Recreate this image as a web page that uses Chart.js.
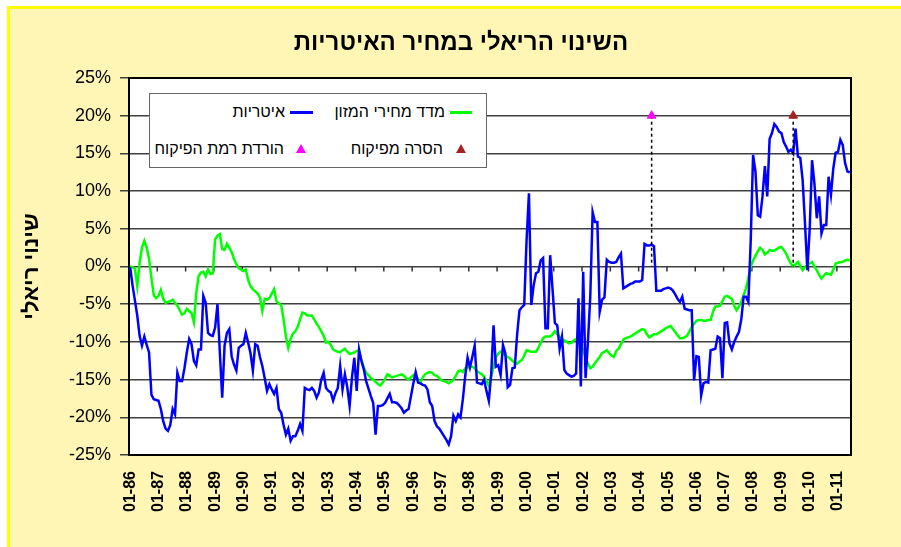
<!DOCTYPE html>
<html lang="he">
<head>
<meta charset="utf-8">
<script src="https://cdn.jsdelivr.net/npm/chart.js@4.4.1/dist/chart.umd.min.js"></script>
<style>
    html, body { margin: 0; padding: 0; background: #fff; overflow: hidden; }
    body { width: 901px; height: 547px; position: relative; font-family: Arial, "Liberation Sans", sans-serif; }
    #frame {
        position: absolute; left: 7px; top: 6px; width: 900px; height: 546px;
        background: #FFF5B4; border-left: 3px solid #FFFF00; border-top: 3px solid #FFFF00;
    }
    #chart { position: absolute; left: 0; top: 0; }
    #title {
        position: absolute; left: 0; width: 922px; top: 28px; line-height: 28px;
        text-align: center; font-weight: bold; font-size: 24px; direction: rtl; color: #000;
    }
    #legendBox {
        position: absolute; left: 149px; top: 93px; width: 338px; height: 75px;
        box-sizing: border-box; background: #fff; border: 1.5px solid #666;
    }
    .lg-text { position: absolute; font-size: 16px; line-height: 20px; direction: rtl; white-space: nowrap; color: #000; }
    .lg-line { position: absolute; height: 3px; }
    .lg-tri {
        position: absolute; width: 0; height: 0;
        border-left: 5px solid transparent; border-right: 5px solid transparent; border-bottom: 9px solid;
    }
</style>
</head>
<body>
<div id="frame"></div>
<canvas id="chart" width="901" height="547"></canvas>
<div id="title">השינוי הריאלי במחיר האיטריות</div>
<div id="legendBox"></div>
<div class="lg-line" style="left:450px; top:111px; width:22px; background:#00ff00;"></div>
<div class="lg-text" style="right:456px; top:102px;">מדד מחירי המזון</div>
<div class="lg-line" style="left:290px; top:111px; width:23px; background:#0000ff;"></div>
<div class="lg-text" style="right:616px; top:102px;">איטריות</div>
<div class="lg-tri" style="left:456px; top:144px; border-bottom-color:#A52222;"></div>
<div class="lg-text" style="right:458px; top:139px;">הסרה מפיקוח</div>
<div class="lg-tri" style="left:296px; top:144px; border-bottom-color:#FF00FF;"></div>
<div class="lg-text" style="right:617px; top:139px;">הורדת רמת הפיקוח</div>

<script>
// ---- data (monthly, 01-86 .. 06-11) ----
const yearTicks = ["01-86", "01-87", "01-88", "01-89", "01-90", "01-91", "01-92", "01-93", "01-94",
    "01-95", "01-96", "01-97", "01-98", "01-99", "01-00", "01-01", "01-02", "01-03", "01-04",
    "01-05", "01-06", "01-07", "01-08", "01-09", "01-10", "01-11"];

const foodIndex = [
    0, -0.1, -0.3, -2.6, 0.5, 2.5, 3.4, 2.5, 1.0, -1.5, -3.8, -4.2,
    -3.9, -3.1, -4.3, -4.8, -4.7, -4.6, -4.4, -4.8, -5.2, -5.8, -6.4, -6.2,
    -5.6, -5.9, -6.2, -7.4, -3.5, -1.3, -0.8, -0.7, -1.3, -0.4, -1.0, -0.9,
    3.6, 4.1, 4.3, 2.3, 2.2, 3.0, 2.5, 1.9, 1.0, 0.3, -0.2, -0.4,
    -0.6, -0.4, -1.8, -2.6, -3.0, -3.3, -3.6, -4.1, -5.9, -4.3, -4.4, -4.2,
    -3.6, -3.0, -4.6, -4.9, -5.1, -7.0, -9.3, -10.8, -9.6, -8.9, -8.6, -8.0,
    -7.0, -6.1, -6.2, -6.5, -6.5, -6.5, -7.0, -7.6, -8.0, -8.6, -9.2, -10.1,
    -10.0, -10.4, -11.0, -11.2, -11.3, -11.4, -11.1, -10.9, -11.3, -11.6, -11.5, -11.4,
    -11.2, -11.2, -12.4, -13.4, -14.1, -14.4, -14.8, -15.0, -15.3, -15.6, -15.8, -15.4,
    -14.9, -14.3, -14.5, -14.7, -14.6, -14.5, -14.4, -14.3, -14.5, -14.8, -15.0, -14.7,
    -14.4, -14.3, -15.0, -15.4, -14.7, -14.3, -14.1, -14.0, -14.1, -14.4, -14.5, -14.8,
    -15.1, -15.2, -15.3, -15.5, -15.3, -15.0, -14.5, -13.9, -13.8, -14.0, -13.5, -13.4,
    -13.3, -13.3, -13.5, -13.9, -14.1, -14.3, -14.6, -15.2, -15.8, -14.6, -13.3, -12.0,
    -11.6, -11.3, -11.5, -11.8, -12.0, -12.2, -12.5, -12.8, -12.9, -12.6, -12.4, -11.8,
    -11.1, -11.2, -11.3, -11.3, -11.3, -10.8, -10.1, -9.5, -9.3, -9.3, -9.3, -9.0,
    -8.6, -9.0, -9.3, -9.6, -9.8, -10.0, -10.2, -10.1, -9.8, -9.6, -9.7, -10.4,
    -11.1, -12.0, -12.9, -13.5, -13.3, -12.8, -12.4, -12.0, -11.5, -11.3, -11.1, -11.5,
    -11.8, -12.0, -11.2, -10.9, -10.3, -9.7, -9.5, -9.4, -9.3, -9.1, -8.9, -8.7,
    -8.5, -8.3, -8.4, -9.0, -9.4, -9.2, -9.0, -9.0, -8.8, -8.6, -8.4, -8.2,
    -8.0, -7.9, -8.3, -8.7, -9.1, -9.5, -9.5, -9.4, -9.2, -8.6, -8.0, -7.6,
    -7.2, -7.1, -7.1, -7.2, -7.2, -7.1, -7.1, -6.0, -5.3, -5.3, -5.2, -4.6,
    -4.0, -3.9, -4.1, -4.3, -5.2, -5.8, -5.3, -4.7, -3.8, -2.9, -1.5, 0.0,
    0.8, 1.4, 2.0, 2.5, 2.2, 1.6, 1.8, 2.2, 2.1, 2.1, 2.3, 2.5,
    2.6, 2.2, 1.7, 1.0, 0.4, 0.0, 0.3, 0.6, 0.1, -0.5, -0.1, 0.2,
    0.4, 0.6, 0.0, -0.5, -1.1, -1.6, -1.2, -0.9, -1.0, -1.1, -0.4, 0.4,
    0.5, 0.6, 0.6, 0.8, 0.9, 0.8
];

const noodles = [
    -0.1, -2.5, -4.5, -6.5, -9.2, -10.5, -9.3, -10.4, -11.4, -17.0, -17.6, -17.7,
    -17.8, -18.9, -20.5, -21.5, -21.8, -21.0, -18.9, -19.6, -14.1, -15.2, -15.2, -13.5,
    -11.4, -9.6, -10.3, -12.5, -13.1, -11.0, -11.0, -3.9, -4.8, -8.8, -9.1, -9.2,
    -8.1, -5.0, -11.4, -17.4, -10.5, -8.8, -8.3, -11.9, -13.0, -13.8, -10.8, -10.5,
    -10.3, -8.8, -10.1, -11.5, -13.8, -10.3, -10.5, -12.0, -13.2, -14.8, -16.5, -15.6,
    -16.3, -16.9, -16.1, -18.9, -19.4, -21.0, -22.3, -21.5, -23.1, -22.5, -22.5, -21.8,
    -20.9, -21.8, -16.1, -16.3, -16.4, -16.1, -16.5, -17.4, -16.7, -15.0, -14.1, -16.1,
    -16.5, -16.7, -17.8, -16.8, -16.1, -13.2, -16.3, -14.3, -16.0, -18.5, -14.7, -12.1,
    -16.5, -11.0, -12.5, -13.6, -15.2, -16.2, -17.2, -18.1, -22.3, -18.5, -18.5, -18.4,
    -18.1, -17.5, -16.9, -18.0, -18.0, -18.1, -18.4, -18.8, -19.4, -19.1, -18.9, -17.2,
    -15.5, -14.0, -15.4, -15.5, -15.7, -15.8, -16.3, -18.0, -18.5, -20.5, -21.2, -21.5,
    -22.0, -22.5, -23.0, -23.6, -22.5, -19.8, -20.5, -19.6, -20.0, -17.6, -14.5, -12.1,
    -13.4, -12.0, -10.5, -15.4, -15.5, -15.6, -15.0, -16.5, -17.8, -14.3, -7.8, -13.3,
    -13.1, -14.4, -10.4, -11.5, -16.0, -15.7, -13.5, -13.4, -9.0, -5.8, -5.4, -5.1,
    3.5, 9.7, -5.1, -2.5, -0.9, -0.7, 0.8, 1.1, -8.2, -8.2, 1.5, -3.0,
    -7.5, -7.8, -10.9, -9.3, -13.7, -14.2, -14.4, -14.6, -14.5, -14.2, -4.2, -15.9,
    -0.7, -14.8, -10.0, -4.0, 7.2, 5.9, 5.9, -6.0, -4.4, -4.1, 0.9, 0.6,
    0.5, 0.5, 0.6, 1.2, 1.7, -2.9, -2.7, -2.5, -2.3, -2.2, -2.0, -2.0,
    -2.0, -1.8, 3.0, 2.8, 2.8, 2.9, 2.7, -3.2, -3.2, -3.2, -3.0, -2.9,
    -2.8, -2.9, -3.2, -3.7, -4.3, -4.7, -4.0, -5.6, -5.7, -5.8, -5.8, -15.1,
    -11.9, -12.0, -17.1, -15.5, -15.3, -15.4, -11.1, -11.0, -10.9, -9.3, -9.5, -14.8,
    -7.5, -7.4, -10.2, -11.0, -10.0, -9.3, -8.7, -7.0, -4.0, -4.0, -4.7, 3.5,
    14.8, 12.6, 6.8, 6.6, 9.3, 13.3, 9.3, 16.9, 17.7, 18.9, 18.5, 17.9,
    17.7, 16.5, 15.9, 15.2, 15.5, 15.0, 18.3, 14.6, 14.4, 11.5, 5.7, -0.5,
    5.0, 14.1, 11.0, 6.4, 9.3, 4.4, 5.5, 5.5, 11.9, 9.5, 13.0, 15.1,
    15.2, 16.8, 16.1, 13.7, 12.6, 12.5
];

// events: lowering of control level, removal from control
const eventMonths = ["06-04", "06-09"];
const eventNames = ["הורדת רמת הפיקוח", "הסרה מפיקוח"];
const eventColors = ["#FF00FF", "#A52222"];
const eventLevel = 20;

// month labels MM-YY for the category axis
const monthLabels = [];
for (let i = 0; i < foodIndex.length; i++) {
    const mm = String(i % 12 + 1).padStart(2, "0");
    const yy = String((86 + Math.floor(i / 12)) % 100).padStart(2, "0");
    monthLabels.push(mm + "-" + yy);
}

Chart.defaults.font.family = 'Arial, "Liberation Sans", sans-serif';
Chart.defaults.color = "#000";

// =======================
// PLUGINS
// =======================
const plotFrame = {
    id: "plotFrame",
    beforeDraw(chart) {
        const a = chart.chartArea;
        const ctx = chart.ctx;
        ctx.save();
        ctx.fillStyle = "#fff";
        ctx.fillRect(a.left, a.top, a.right - a.left, a.bottom - a.top);
        ctx.restore();
    },
    beforeDatasetsDraw(chart) {
        const a = chart.chartArea;
        const ctx = chart.ctx;
        const xs = chart.scales.x;
        const y0 = chart.scales.y.getPixelForValue(0);
        const half = (xs.getPixelForValue(1) - xs.getPixelForValue(0)) / 2;
        ctx.save();
        // small year ticks on the zero line
        ctx.strokeStyle = "#333";
        ctx.lineWidth = 1.5;
        ctx.beginPath();
        for (let i = 12; i < monthLabels.length; i += 12) {
            const x = xs.getPixelForValue(i) - half;
            ctx.moveTo(x, y0);
            ctx.lineTo(x, y0 + 5);
        }
        ctx.stroke();
        // frame
        ctx.strokeStyle = "#000";
        ctx.lineWidth = 2;
        ctx.strokeRect(a.left, a.top, a.right - a.left, a.bottom - a.top);
        ctx.restore();
    }
};

const eventSets = eventMonths.map((m, i) => ({
    label: eventNames[i],
    data: [{ x: m, y: eventLevel }, { x: m, y: 0 }],
    borderColor: "#000",
    borderWidth: 1.5,
    borderDash: [3, 3],
    pointStyle: "triangle",
    pointRadius: [5, 0],
    pointBackgroundColor: eventColors[i],
    pointBorderColor: eventColors[i],
    pointBorderWidth: 1,
    order: 0
}));

const ctx = document.getElementById("chart").getContext("2d");
new Chart(ctx, {
    type: "line",
    data: {
        labels: monthLabels,
        datasets: [
            {
                label: "מדד מחירי המזון",
                data: foodIndex,
                borderColor: "#00ff00",
                borderWidth: 2.5,
                pointRadius: 0,
                tension: 0,
                order: 2
            },
            {
                label: "איטריות",
                data: noodles,
                borderColor: "#0000ff",
                borderWidth: 2.5,
                pointRadius: 0,
                tension: 0,
                order: 1
            },
            ...eventSets
        ]
    },
    options: {
        responsive: false,
        animation: false,
        devicePixelRatio: 1,
        layout: { padding: { left: 0, top: 78, right: 50, bottom: 0 } },
        plugins: {
            legend: { display: false },
            tooltip: { enabled: false }
        },
        scales: {
            x: {
                type: "category",
                offset: true,
                grid: { display: false },
                border: { display: false },
                ticks: {
                    autoSkip: false,
                    minRotation: 90,
                    maxRotation: 90,
                    padding: 8,
                    font: { size: 16, weight: "bold" },
                    callback: (v, i) => (i % 12 === 0 ? yearTicks[i / 12] : "")
                },
                afterFit: s => { s.height = 92; }
            },
            y: {
                min: -25,
                max: 25,
                ticks: {
                    stepSize: 5,
                    padding: 9,
                    font: { size: 18 },
                    callback: v => v + "%"
                },
                grid: { color: "#404040", lineWidth: 1.5, tickLength: 9, tickColor: "#404040" },
                border: { display: false },
                title: {
                    display: true,
                    text: "שינוי ריאלי",
                    font: { size: 22, weight: "bold" },
                    padding: { top: 19, bottom: 0 }
                },
                afterFit: s => { s.width = 129; }
            }
        }
    },
    plugins: [plotFrame]
});
</script>
</body>
</html>
